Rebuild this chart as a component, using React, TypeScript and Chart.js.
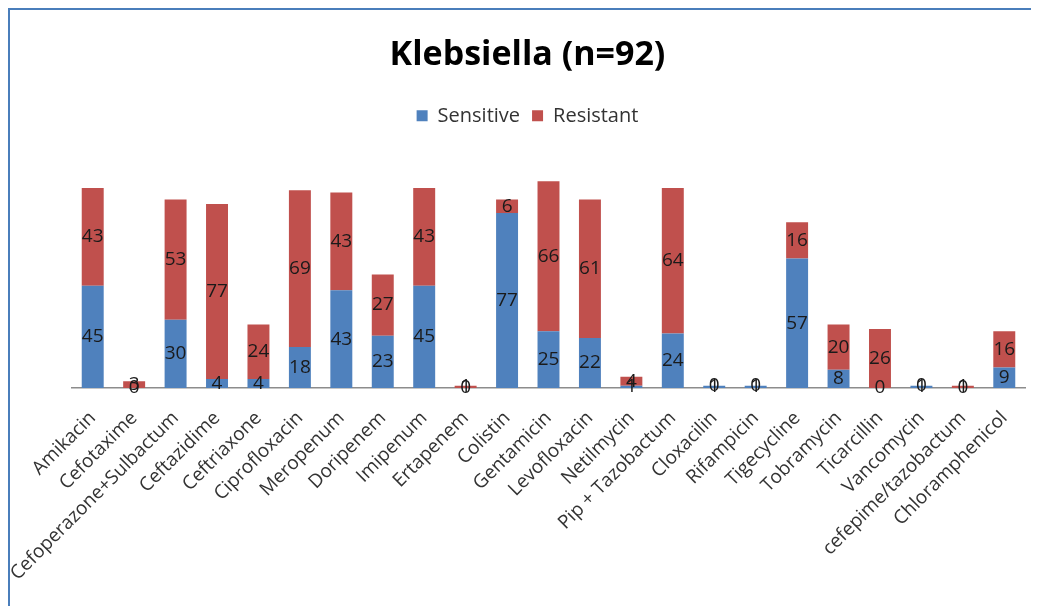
import React, { useEffect, useRef } from "react";
import { Chart, registerables } from "chart.js";

Chart.register(...registerables);

const drugs = [
  "Amikacin",
  "Cefotaxime",
  "Cefoperazone+Sulbactum",
  "Ceftazidime",
  "Ceftriaxone",
  "Ciprofloxacin",
  "Meropenum",
  "Doripenem",
  "Imipenum",
  "Ertapenem",
  "Colistin",
  "Gentamicin",
  "Levofloxacin",
  "Netilmycin",
  "Pip + Tazobactum",
  "Cloxacilin",
  "Rifampicin",
  "Tigecycline",
  "Tobramycin",
  "Ticarcillin",
  "Vancomycin",
  "cefepime/tazobactum",
  "Chloramphenicol",
];

const sensitive = [45, 0, 30, 4, 4, 18, 43, 23, 45, 0, 77, 25, 22, 1, 24, 1, 1, 57, 8, 0, 1, 0, 9];
const resistant = [43, 3, 53, 77, 24, 69, 43, 27, 43, 1, 6, 66, 61, 4, 64, 0, 0, 16, 20, 26, 0, 1, 16];

const FONT = "'Open Sans', 'Liberation Sans', sans-serif";

// Writes each stacked segment's value at the middle of the segment.
const segmentValues = {
  id: "segmentValues",
  afterDatasetsDraw(chart: any) {
    const ctx = chart.ctx;
    ctx.save();
    ctx.font = `19px ${FONT}`;
    ctx.fillStyle = "#1a1a1a";
    ctx.textAlign = "center";
    ctx.textBaseline = "middle";
    chart.data.datasets.forEach((ds: any, di: number) => {
      const meta = chart.getDatasetMeta(di);
      meta.data.forEach((bar: any, i: number) => {
        const y = (bar.y + bar.base) / 2;
        ctx.fillText(String(ds.data[i]), bar.x, y);
      });
    });
    ctx.restore();
  },
};

export default function App() {
  const ref = useRef<HTMLCanvasElement | null>(null);

  useEffect(() => {
    document.body.style.overflow = "hidden";
    const chart = new Chart(ref.current as HTMLCanvasElement, {
      type: "bar",
      data: {
        labels: drugs,
        datasets: [
          {
            label: "Sensitive",
            data: sensitive,
            backgroundColor: "#4f81bd",
            barPercentage: 0.53,
            categoryPercentage: 1,
          },
          {
            label: "Resistant",
            data: resistant,
            backgroundColor: "#c0504d",
            barPercentage: 0.53,
            categoryPercentage: 1,
          },
        ],
      },
      options: {
        responsive: false,
        animation: false,
        layout: { padding: { left: 20, right: 14, top: 0, bottom: 0 } },
        plugins: {
          title: {
            display: true,
            text: "Klebsiella (n=92)",
            color: "#000",
            font: { family: FONT, size: 34, weight: "bold" },
            padding: { top: 25, bottom: 18 },
          },
          legend: {
            position: "top",
            labels: {
              boxWidth: 11,
              boxHeight: 11,
              padding: 12,
              color: "#333",
              font: { family: FONT, size: 20 },
            },
          },
          tooltip: { enabled: false },
        },
        scales: {
          x: {
            stacked: true,
            grid: { display: false },
            border: { display: true, color: "#8c8c8c", width: 1.5 },
            ticks: {
              autoSkip: false,
              minRotation: 45,
              maxRotation: 45,
              padding: 11,
              color: "#333",
              font: { family: FONT, size: 19 },
            },
            afterFit: (scale: any) => {
              scale.height = 218;
            },
          },
          y: {
            stacked: true,
            display: true,
            min: 0,
            max: 111,
            grid: { display: false },
            border: { display: false },
            ticks: { display: false },
            afterFit: (scale: any) => {
              scale.width = 42;
            },
          },
        },
      },
      plugins: [segmentValues],
    });
    return () => chart.destroy();
  }, []);

  return (
    <div
      style={{
        borderTop: "2px solid #4a7ebb",
        borderLeft: "2px solid #4a7ebb",
        width: 1029,
        height: 596,
        background: "#fff",
      }}
    >
      <canvas ref={ref} width={1029} height={596} style={{ display: "block" }} />
    </div>
  );
}
